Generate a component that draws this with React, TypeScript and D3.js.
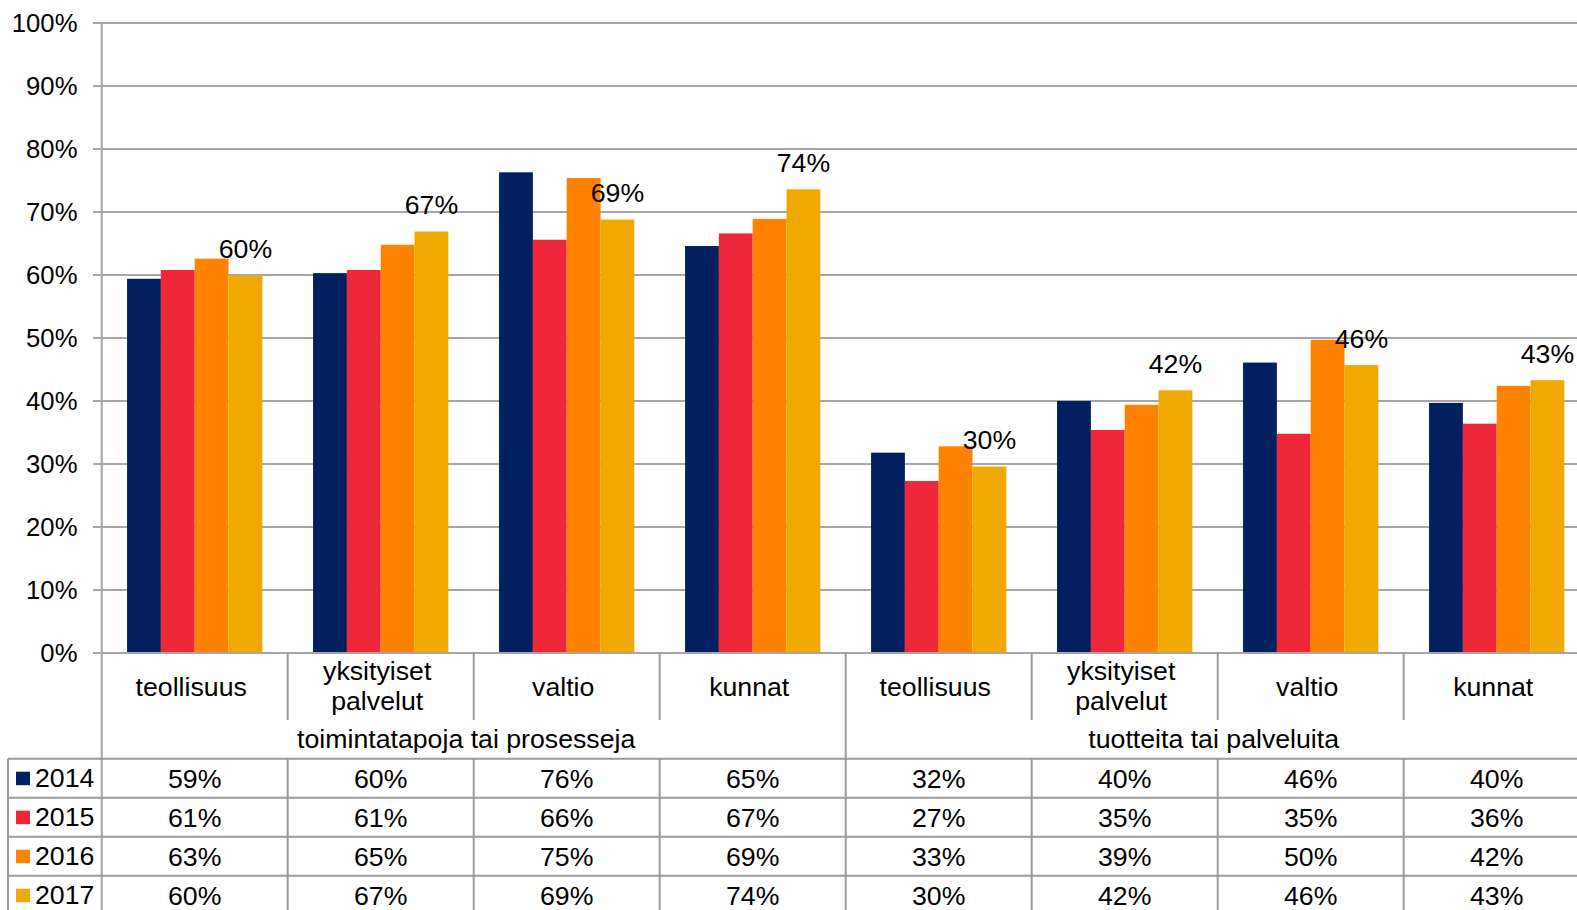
import React from "react";
import * as d3 from "d3";

const categories = [
  "teollisuus",
  "yksityiset\npalvelut",
  "valtio",
  "kunnat",
  "teollisuus",
  "yksityiset\npalvelut",
  "valtio",
  "kunnat",
];
const groups = ["toimintatapoja tai prosesseja", "tuotteita tai palveluita"];
const years = ["2014", "2015", "2016", "2017"];
const s2014 = [59.4, 60.3, 76.3, 64.6, 31.8, 40.0, 46.1, 39.7];
const s2015 = [60.8, 60.8, 65.6, 66.6, 27.3, 35.4, 34.8, 36.4];
const s2016 = [62.6, 64.8, 75.4, 68.9, 32.8, 39.4, 49.7, 42.4];
const s2017 = [59.9, 66.9, 68.8, 73.6, 29.6, 41.7, 45.7, 43.3];
const series = [s2014, s2015, s2016, s2017];
const colors = ["#021f5f", "#ee2839", "#ff8200", "#f0a900"];
const yTicks = [0, 10, 20, 30, 40, 50, 60, 70, 80, 90, 100];

const W = 1577;
const H = 910;
const FONT = "'Liberation Sans', Arial, Helvetica, sans-serif";
const GRID = "#a6a6a6";
const TLINE = "#9a9a9a";
const FS = 26.7;

export default function App() {
  const left = 101.7;
  const step = 186;
  const x = d3
    .scaleBand<number>()
    .domain(d3.range(categories.length))
    .range([left, left + step * categories.length])
    .padding(0);
  const x1 = d3
    .scaleBand<string>()
    .domain(years)
    .range([0, x.bandwidth()])
    .paddingInner(0)
    .paddingOuter(0.75);
  const y = d3.scaleLinear().domain([0, 100]).range([653, 23]);
  const y0 = y(0);
  const catBottom = 720;
  const tableTop = 758.7;
  const rowH = 39;
  const tableLeft = 8;
  const fmt = (v: number) => `${Math.round(v)}%`;

  return (
    <svg
      width={W}
      height={H}
      style={{ position: "fixed", left: 0, top: 0, background: "#fff" }}
      fontFamily={FONT}
    >
      <rect x={0} y={0} width={W} height={H} fill="#fff" />
      {/* gridlines and y ticks */}
      {yTicks.map((t) => (
        <g key={t}>
          <line x1={93} x2={W} y1={y(t)} y2={y(t)} stroke={GRID} strokeWidth={2} />
          <text x={77.5} y={y(t) + 8.8} textAnchor="end" fontSize={25.7} fill="#000">
            {t}%
          </text>
        </g>
      ))}
      {/* bars */}
      {series.map((s, si) =>
        s.map((v, ci) => (
          <rect
            key={`${si}-${ci}`}
            x={(x(ci) as number) + (x1(years[si]) as number)}
            y={y(v)}
            width={x1.bandwidth()}
            height={y0 - y(v)}
            fill={colors[si]}
          />
        ))
      )}
      {/* value labels for last series */}
      {s2017.map((v, ci) => (
        <text
          key={`lbl-${ci}`}
          x={(x(ci) as number) + (x1("2017") as number) + x1.bandwidth() / 2}
          y={y(v) - 17.5}
          textAnchor="middle"
          fontSize={FS}
          fill="#000"
        >
          {fmt(v)}
        </text>
      ))}
      {/* axis line */}
      <line x1={93} x2={W} y1={y0} y2={y0} stroke={GRID} strokeWidth={2} />
      {/* y axis */}
      <line x1={left} x2={left} y1={23} y2={H} stroke={GRID} strokeWidth={2} />
      {/* category separators */}
      {categories.map((_, ci) => {
        if (ci === 0) return null;
        const xx = x(ci) as number;
        const isGroup = ci % 4 === 0;
        return (
          <g key={`sep-${ci}`}>
            <line
              x1={xx}
              x2={xx}
              y1={y0}
              y2={isGroup ? H : catBottom}
              stroke={TLINE}
              strokeWidth={2}
            />
            {!isGroup && (
              <line x1={xx} x2={xx} y1={tableTop} y2={H} stroke={TLINE} strokeWidth={2} />
            )}
          </g>
        );
      })}
      {/* category labels */}
      {categories.map((c, ci) => {
        const lines = c.split("\n");
        const cx = (x(ci) as number) + x.bandwidth() / 2 - 3.5;
        return (
          <text key={`cat-${ci}`} x={cx} textAnchor="middle" fontSize={FS} fill="#000">
            {lines.length === 1 ? (
              <tspan x={cx} y={696}>
                {lines[0]}
              </tspan>
            ) : (
              lines.map((l, li) => (
                <tspan key={li} x={cx} y={680 + li * 30}>
                  {l}
                </tspan>
              ))
            )}
          </text>
        );
      })}
      {/* group labels */}
      {groups.map((g, gi) => {
        const x0 = x(gi * 4) as number;
        const cx = x0 + (x.bandwidth() * 4) / 2 - (gi === 0 ? 7.5 : 4);
        return (
          <text key={`g-${gi}`} x={cx} y={748} textAnchor="middle" fontSize={FS} fill="#000">
            {g}
          </text>
        );
      })}
      {/* table */}
      <line x1={tableLeft} x2={tableLeft} y1={tableTop} y2={H} stroke={TLINE} strokeWidth={2} />
      {years.map((yr, ri) => {
        const top = tableTop + ri * rowH;
        return (
          <g key={`row-${yr}`}>
            <line x1={tableLeft} x2={W} y1={top} y2={top} stroke={TLINE} strokeWidth={2} />
            <rect x={16} y={top + 13} width={14} height={13.5} fill={colors[ri]} />
            <text x={35} y={top + 28.5} fontSize={FS} fill="#000">
              {yr}
            </text>
            {series[ri].map((v, ci) => (
              <text
                key={ci}
                x={(x(ci) as number) + x.bandwidth() / 2}
                y={top + 29.5}
                textAnchor="middle"
                fontSize={FS}
                fill="#000"
              >
                {fmt(v)}
              </text>
            ))}
          </g>
        );
      })}
    </svg>
  );
}
